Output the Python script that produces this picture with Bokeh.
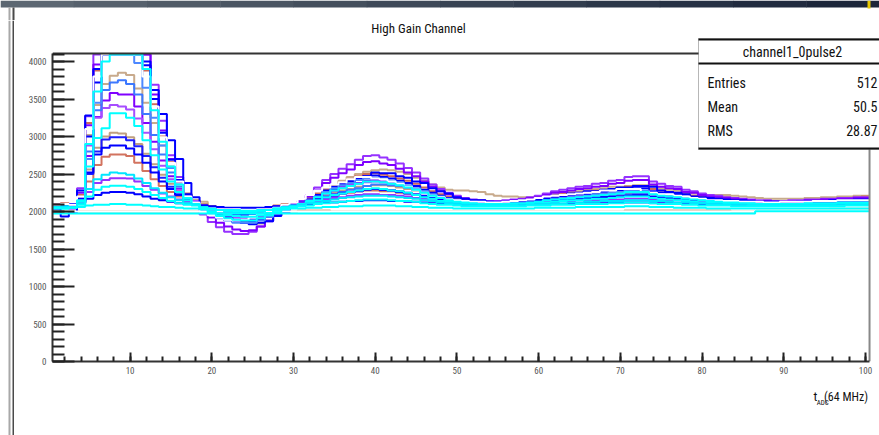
from bokeh.plotting import figure
from bokeh.models import Range1d, SingleIntervalTicker, Label, BoxAnnotation
from bokeh.layouts import row, column
from bokeh.embed import file_html
from bokeh.resources import INLINE

# ---------------- data (ADC counts per time bin, 100 bins) ----------------
bins = list(range(1, 101))

trace_01 = [2060, 2070, 2060, 2310, 3270, 4095, 4095, 4095, 4095, 4095,
            4095, 4095, 3690, 3210, 2750, 2460, 2200, 2130, 1960, 1860,
            1790, 1730, 1700, 1700, 1730, 1800, 1880, 1960, 2030, 2090,
            2140, 2220, 2320, 2420, 2500, 2570, 2630, 2690, 2740, 2750,
            2720, 2690, 2640, 2580, 2520, 2440, 2360, 2300, 2250, 2210,
            2180, 2160, 2150, 2140, 2140, 2150, 2160, 2170, 2190, 2210,
            2240, 2270, 2290, 2310, 2330, 2340, 2370, 2380, 2410, 2420,
            2460, 2470, 2470, 2400, 2370, 2340, 2330, 2290, 2270, 2240,
            2220, 2210, 2190, 2180, 2170, 2160, 2150, 2150, 2140, 2140,
            2150, 2150, 2160, 2160, 2170, 2170, 2180, 2180, 2190, 2190]
trace_02 = [2040, 2050, 2040, 2250, 3150, 3960, 4095, 4095, 4095, 4095,
            4095, 4095, 3560, 3080, 2700, 2400, 2220, 2110, 2010, 1920,
            1850, 1800, 1760, 1740, 1750, 1800, 1870, 1950, 2020, 2080,
            2130, 2200, 2290, 2380, 2450, 2510, 2560, 2620, 2660, 2670,
            2640, 2620, 2570, 2520, 2470, 2400, 2330, 2270, 2230, 2190,
            2170, 2150, 2140, 2130, 2130, 2140, 2150, 2160, 2180, 2190,
            2220, 2250, 2260, 2280, 2300, 2310, 2330, 2340, 2370, 2380,
            2410, 2420, 2420, 2360, 2330, 2310, 2300, 2260, 2250, 2220,
            2200, 2190, 2180, 2170, 2160, 2150, 2140, 2140, 2130, 2130,
            2140, 2140, 2150, 2150, 2160, 2160, 2170, 2170, 2180, 2180]
trace_03 = [2080, 2090, 2080, 2190, 3020, 3420, 3700, 3810, 3850, 3820,
            3640, 3450, 3180, 2880, 2600, 2390, 2230, 2150, 2130, 2070,
            1990, 1930, 1880, 1850, 1840, 1840, 1880, 1940, 2000, 2060,
            2110, 2150, 2210, 2280, 2350, 2410, 2460, 2500, 2530, 2550,
            2560, 2550, 2530, 2500, 2450, 2410, 2360, 2320, 2290, 2280,
            2280, 2270, 2260, 2230, 2210, 2200, 2200, 2190, 2190, 2200,
            2210, 2230, 2250, 2260, 2270, 2290, 2300, 2310, 2330, 2330,
            2340, 2350, 2350, 2340, 2310, 2290, 2280, 2260, 2240, 2230,
            2220, 2220, 2220, 2210, 2200, 2190, 2180, 2170, 2170, 2170,
            2170, 2170, 2180, 2180, 2190, 2190, 2200, 2200, 2210, 2210]
trace_04 = [2050, 2060, 2070, 2170, 3000, 3720, 4095, 4095, 4095, 4095,
            4095, 3950, 3500, 3050, 2690, 2420, 2230, 2120, 2030, 1970,
            1920, 1890, 1860, 1850, 1860, 1890, 1930, 1990, 2040, 2080,
            2110, 2160, 2220, 2280, 2330, 2370, 2410, 2440, 2470, 2480,
            2460, 2440, 2410, 2380, 2340, 2290, 2250, 2210, 2180, 2160,
            2140, 2130, 2120, 2110, 2110, 2120, 2130, 2130, 2140, 2160,
            2170, 2190, 2200, 2220, 2230, 2230, 2250, 2260, 2280, 2280,
            2310, 2310, 2310, 2270, 2250, 2230, 2230, 2200, 2190, 2170,
            2160, 2160, 2140, 2140, 2130, 2130, 2120, 2120, 2110, 2110,
            2120, 2120, 2130, 2130, 2130, 2130, 2140, 2140, 2140, 2150]
trace_05 = [2090, 2100, 2090, 2200, 3100, 3800, 4095, 4095, 4095, 4095,
            4095, 3800, 3400, 2990, 2650, 2400, 2200, 2120, 1990, 1950,
            1920, 1890, 1880, 1890, 1920, 1960, 2010, 2050, 2090, 2120,
            2170, 2220, 2280, 2320, 2360, 2390, 2430, 2460, 2460, 2440,
            2430, 2400, 2370, 2330, 2290, 2250, 2210, 2190, 2160, 2150,
            2140, 2130, 2130, 2120, 2120, 2130, 2140, 2150, 2160, 2180,
            2200, 2210, 2220, 2230, 2240, 2250, 2260, 2280, 2280, 2300,
            2300, 2300, 2260, 2250, 2230, 2230, 2210, 2200, 2180, 2170,
            2150, 2150, 2140, 2140, 2130, 2130, 2130, 2120, 2120, 2130,
            2130, 2130, 2130, 2140, 2140, 2140, 2150, 2150, 2150, 2150]
trace_06 = [2060, 2070, 2060, 2150, 2900, 3600, 4000, 4095, 4095, 4095,
            4095, 3900, 3350, 2930, 2600, 2360, 2180, 2100, 2030, 1980,
            1940, 1910, 1890, 1880, 1880, 1910, 1950, 1990, 2030, 2070,
            2100, 2140, 2190, 2240, 2280, 2310, 2340, 2370, 2400, 2400,
            2390, 2370, 2350, 2320, 2290, 2250, 2210, 2180, 2150, 2130,
            2120, 2110, 2100, 2100, 2100, 2100, 2110, 2110, 2120, 2130,
            2150, 2160, 2170, 2180, 2190, 2200, 2210, 2220, 2230, 2240,
            2260, 2260, 2260, 2230, 2210, 2200, 2190, 2170, 2160, 2150,
            2140, 2130, 2120, 2120, 2110, 2110, 2100, 2100, 2100, 2100,
            2100, 2100, 2110, 2110, 2110, 2110, 2120, 2120, 2120, 2120]
trace_07 = [2070, 2080, 2070, 2140, 2800, 3350, 3620, 3720, 3750, 3700,
            3560, 3300, 3020, 2760, 2520, 2330, 2180, 2110, 2060, 2050,
            2000, 1970, 1950, 1930, 1920, 1920, 1950, 1980, 2020, 2050,
            2080, 2110, 2140, 2180, 2220, 2260, 2290, 2310, 2340, 2360,
            2360, 2350, 2340, 2320, 2290, 2270, 2230, 2200, 2170, 2150,
            2140, 2130, 2120, 2110, 2110, 2110, 2110, 2120, 2120, 2130,
            2140, 2150, 2170, 2180, 2190, 2190, 2200, 2210, 2220, 2230,
            2230, 2240, 2240, 2240, 2210, 2200, 2190, 2180, 2170, 2150,
            2140, 2140, 2130, 2120, 2120, 2110, 2110, 2110, 2100, 2100,
            2110, 2110, 2110, 2110, 2120, 2120, 2120, 2130, 2130, 2130]
trace_08 = [2050, 2050, 2060, 2130, 2600, 2980, 3110, 3310, 3310, 3250,
            3140, 2950, 2750, 2560, 2400, 2260, 2150, 2090, 2040, 2000,
            1970, 1950, 1940, 1930, 1930, 1950, 1980, 2010, 2040, 2070,
            2090, 2120, 2150, 2190, 2220, 2240, 2260, 2280, 2300, 2310,
            2300, 2280, 2270, 2250, 2220, 2190, 2170, 2140, 2130, 2110,
            2100, 2090, 2090, 2090, 2090, 2090, 2090, 2100, 2100, 2110,
            2120, 2130, 2140, 2150, 2150, 2160, 2170, 2170, 2180, 2190,
            2200, 2200, 2200, 2180, 2170, 2160, 2150, 2140, 2130, 2120,
            2120, 2110, 2100, 2100, 2100, 2090, 2090, 2090, 2090, 2090,
            2090, 2090, 2090, 2090, 2100, 2100, 2100, 2100, 2100, 2100]
trace_09 = [2070, 2060, 2070, 2120, 2500, 2800, 2960, 2990, 2990, 2950,
            2870, 2740, 2590, 2450, 2330, 2230, 2150, 2110, 2080, 2050,
            2020, 2000, 1990, 1990, 1990, 2000, 2030, 2050, 2080, 2100,
            2120, 2140, 2170, 2200, 2230, 2250, 2260, 2280, 2300, 2300,
            2290, 2280, 2270, 2250, 2230, 2210, 2180, 2170, 2150, 2140,
            2130, 2120, 2120, 2120, 2120, 2120, 2120, 2130, 2130, 2140,
            2150, 2160, 2160, 2170, 2170, 2180, 2190, 2190, 2200, 2200,
            2210, 2220, 2220, 2200, 2190, 2180, 2170, 2160, 2160, 2150,
            2140, 2140, 2130, 2130, 2130, 2120, 2120, 2120, 2120, 2120,
            2120, 2120, 2120, 2120, 2130, 2130, 2130, 2130, 2130, 2130]
trace_10 = [2080, 2090, 2080, 2120, 2400, 2620, 2730, 2760, 2760, 2740,
            2650, 2540, 2430, 2340, 2260, 2200, 2150, 2130, 2090, 2070,
            2050, 2030, 2020, 2020, 2020, 2030, 2050, 2080, 2100, 2110,
            2130, 2150, 2170, 2200, 2220, 2240, 2250, 2270, 2280, 2280,
            2270, 2270, 2250, 2240, 2220, 2200, 2180, 2170, 2160, 2150,
            2140, 2130, 2130, 2130, 2130, 2130, 2130, 2140, 2140, 2150,
            2150, 2160, 2170, 2170, 2180, 2180, 2190, 2190, 2200, 2200,
            2210, 2210, 2210, 2190, 2190, 2180, 2180, 2170, 2200, 2200,
            2200, 2200, 2190, 2180, 2160, 2150, 2140, 2140, 2130, 2130,
            2130, 2130, 2140, 2140, 2150, 2160, 2170, 2180, 2190, 2200]
trace_11 = [2060, 2060, 2070, 2120, 2260, 2380, 2420, 2445, 2445, 2440,
            2400, 2340, 2290, 2240, 2200, 2160, 2130, 2110, 2080, 2060,
            2040, 2030, 2020, 2020, 2020, 2030, 2050, 2070, 2080, 2100,
            2110, 2120, 2140, 2160, 2180, 2190, 2210, 2220, 2230, 2230,
            2220, 2220, 2210, 2200, 2180, 2170, 2150, 2140, 2130, 2120,
            2120, 2110, 2110, 2110, 2110, 2110, 2110, 2110, 2120, 2120,
            2130, 2130, 2140, 2140, 2150, 2150, 2150, 2160, 2160, 2160,
            2170, 2170, 2170, 2160, 2150, 2150, 2150, 2140, 2130, 2130,
            2120, 2120, 2120, 2120, 2110, 2110, 2110, 2110, 2110, 2110,
            2110, 2110, 2110, 2110, 2110, 2110, 2120, 2120, 2120, 2120]
trace_12 = [2050, 2040, 2050, 2090, 2200, 2290, 2330, 2345, 2345, 2330,
            2300, 2260, 2220, 2180, 2140, 2110, 2090, 2080, 2050, 2030,
            2020, 2010, 2010, 2000, 2000, 2010, 2020, 2040, 2050, 2060,
            2070, 2080, 2100, 2110, 2120, 2130, 2140, 2150, 2160, 2160,
            2160, 2150, 2140, 2140, 2130, 2110, 2100, 2090, 2090, 2080,
            2070, 2070, 2070, 2070, 2070, 2070, 2070, 2070, 2080, 2080,
            2080, 2090, 2090, 2090, 2100, 2100, 2100, 2100, 2110, 2110,
            2120, 2120, 2120, 2110, 2100, 2100, 2100, 2090, 2090, 2080,
            2080, 2080, 2080, 2070, 2070, 2070, 2070, 2070, 2070, 2070,
            2070, 2070, 2070, 2070, 2070, 2070, 2070, 2080, 2080, 2080]
trace_13 = [2040, 1935, 1990, 2100, 2170, 2220, 2250, 2260, 2260, 2250,
            2230, 2200, 2170, 2150, 2130, 2110, 2100, 2100, 2080, 2070,
            2060, 2050, 2050, 2050, 2050, 2050, 2060, 2070, 2080, 2080,
            2090, 2100, 2110, 2120, 2120, 2130, 2140, 2140, 2150, 2150,
            2150, 2140, 2140, 2130, 2130, 2120, 2110, 2100, 2100, 2100,
            2090, 2090, 2090, 2090, 2090, 2090, 2090, 2090, 2090, 2100,
            2100, 2100, 2100, 2110, 2110, 2110, 2110, 2110, 2120, 2120,
            2120, 2120, 2120, 2110, 2110, 2110, 2110, 2100, 2100, 2100,
            2100, 2100, 2090, 2090, 2090, 2090, 2090, 2090, 2090, 2090,
            2090, 2090, 2090, 2090, 2090, 2090, 2090, 2090, 2100, 2100]
trace_14 = [2060, 2060, 2060, 2070, 2100, 2120, 2120, 2130, 2130, 2120,
            2120, 2110, 2100, 2090, 2080, 2070, 2060, 2060, 2050, 2040,
            2030, 2030, 2030, 2020, 2020, 2030, 2030, 2040, 2050, 2050,
            2060, 2070, 2070, 2080, 2090, 2090, 2100, 2100, 2110, 2110,
            2110, 2100, 2100, 2090, 2090, 2080, 2080, 2070, 2070, 2060,
            2060, 2060, 2060, 2060, 2060, 2060, 2060, 2060, 2070, 2070,
            2070, 2070, 2070, 2080, 2080, 2080, 2080, 2080, 2080, 2080,
            2090, 2090, 2090, 2080, 2080, 2080, 2070, 2070, 2070, 2070,
            2060, 2060, 2060, 2060, 2060, 2060, 2060, 2060, 2060, 2060,
            2060, 2060, 2060, 2060, 2060, 2070, 2070, 2070, 2070, 2070]
trace_15 = [2040, 2040, 2050, 2060, 2080, 2090, 2090, 2100, 2100, 2090,
            2090, 2080, 2070, 2060, 2060, 2050, 2040, 2040, 2030, 2030,
            2020, 2020, 2020, 2010, 2010, 2020, 2020, 2030, 2030, 2040,
            2040, 2050, 2050, 2060, 2060, 2070, 2070, 2070, 2080, 2080,
            2080, 2080, 2070, 2070, 2060, 2060, 2050, 2050, 2050, 2040,
            2040, 2040, 2040, 2040, 2040, 2040, 2040, 2040, 2040, 2050,
            2050, 2050, 2050, 2050, 2060, 2060, 2060, 2060, 2060, 2060,
            2070, 2070, 2070, 2060, 2060, 2060, 2050, 2050, 2050, 2050,
            2040, 2040, 2040, 2040, 2040, 2040, 2040, 2040, 2040, 2040,
            2040, 2040, 2040, 2040, 2040, 2040, 2040, 2040, 2040, 2040]
trace_16 = [1975, 1975, 1975, 1975, 1975, 1975, 1975, 1975, 1975, 1975,
            1975, 1975, 1975, 1975, 1975, 1975, 1975, 1975, 1975, 1975,
            1975, 1975, 1975, 1975, 1975, 1975, 1975, 1975, 1975, 1975,
            1975, 1975, 1975, 1975, 1975, 1975, 1975, 1975, 1975, 1975,
            1975, 1975, 1975, 1975, 1975, 1975, 1975, 1975, 1975, 1975,
            1975, 1975, 1975, 1975, 1975, 1975, 1975, 1975, 1975, 1975,
            1975, 1975, 1975, 1975, 1975, 1975, 1975, 1975, 1975, 1975,
            1975, 1975, 1975, 1975, 1975, 1975, 1975, 1975, 1975, 1975,
            1975, 1975, 1975, 1975, 1975, 1975, 2005, 2005, 2005, 2005,
            2005, 2005, 2005, 2005, 2005, 2005, 2005, 2005, 2005, 2005]
trace_17 = [2000, 2000, 2000, 2000, 2000, 2000, 2000, 2000, 2000, 2000,
            2000, 2000, 2000, 2000, 2000, 2000, 2000, 2000, 2000, 2000,
            2000, 2000, 2000, 2000, 2000, 2000, 2000, 2000, 2000, 2000,
            2000, 2000, 2000, 2000, 2000, 2000, 2000, 2000, 2000, 2000,
            2000, 2000, 2000, 2000, 2000, 2000, 2000, 2000, 2000, 2000,
            2000, 2000, 2000, 2000, 2000, 2000, 2000, 2000, 2000, 2000,
            2000, 2000, 2000, 2000, 2000, 2000, 2000, 2000, 2000, 2000,
            2000, 2000, 2000, 2000, 2000, 2000, 2000, 2000, 2000, 2000,
            2000, 2000, 2000, 2000, 2000, 2000, 2040, 2040, 2040, 2040,
            2040, 2040, 2040, 2040, 2040, 2040, 2040, 2040, 2040, 2040]
trace_18 = [2000, 2000, 2000, 2000, 2000, 2000, 2000, 2000, 2000, 2000,
            2000, 2000, 2000, 2000, 2000, 2000, 2000, 2000, 2000, 2000,
            2000, 2000, 2000, 2000, 2000, 2000, 2000, 2000, 2000, 2000,
            2015, 2015, 2015, 2015, 2000, 2000, 2000, 2000, 2000, 2000,
            2000, 2000, 2000, 2000, 2000, 2000, 2000, 2000, 2000, 2000,
            2000, 2000, 2000, 2000, 2000, 2000, 2000, 2000, 2000, 2000,
            2000, 2000, 2000, 2000, 2000, 2000, 2000, 2000, 2000, 2000,
            2015, 2015, 2015, 2015, 2015, 2015, 2015, 2015, 2015, 2015,
            2015, 2015, 2015, 2000, 2000, 2000, 2040, 2040, 2040, 2040,
            2040, 2040, 2040, 2040, 2040, 2040, 2040, 2040, 2040, 2040]
trace_19 = [2090, 2080, 2100, 2280, 3280, 3900, 4095, 4095, 4095, 4095,
            4095, 4000, 3620, 3300, 2950, 2700, 2380, 2190, 2080, 2010,
            1960, 1920, 1870, 1850, 1830, 1850, 1870, 1940, 1980, 2050,
            2090, 2120, 2170, 2250, 2300, 2370, 2400, 2450, 2470, 2520,
            2510, 2510, 2470, 2450, 2400, 2380, 2310, 2270, 2240, 2190,
            2170, 2150, 2150, 2130, 2120, 2130, 2130, 2150, 2150, 2170,
            2180, 2210, 2220, 2240, 2250, 2270, 2270, 2290, 2300, 2320,
            2320, 2340, 2340, 2330, 2280, 2260, 2250, 2230, 2200, 2190,
            2180, 2170, 2160, 2150, 2150, 2140, 2130, 2130, 2130, 2120,
            2120, 2130, 2130, 2140, 2140, 2150, 2150, 2150, 2160, 2160]
trace_20 = [2070, 2060, 2070, 2160, 2740, 3260, 3480, 3580, 3560, 3560,
            3400, 3180, 2930, 2680, 2470, 2300, 2190, 2130, 2050, 1990,
            1950, 1920, 1890, 1880, 1890, 1920, 1960, 2000, 2050, 2080,
            2120, 2150, 2200, 2250, 2280, 2330, 2350, 2380, 2410, 2420,
            2400, 2390, 2360, 2330, 2300, 2260, 2220, 2190, 2160, 2140,
            2130, 2120, 2110, 2110, 2100, 2110, 2120, 2120, 2130, 2140,
            2160, 2170, 2180, 2190, 2200, 2210, 2220, 2230, 2240, 2250,
            2270, 2270, 2260, 2240, 2220, 2210, 2200, 2180, 2170, 2160,
            2150, 2140, 2130, 2130, 2120, 2120, 2110, 2110, 2110, 2110,
            2110, 2110, 2120, 2120, 2120, 2120, 2130, 2130, 2130, 2140]
trace_21 = [2060, 2070, 2060, 2130, 2700, 3450, 4095, 4095, 4095, 4095,
            3980, 3650, 3250, 2880, 2580, 2360, 2200, 2110, 2020, 1960,
            1910, 1880, 1850, 1850, 1850, 1880, 1930, 1980, 2030, 2070,
            2100, 2150, 2200, 2260, 2310, 2350, 2380, 2420, 2440, 2450,
            2440, 2410, 2390, 2350, 2310, 2270, 2220, 2190, 2160, 2140,
            2120, 2110, 2100, 2100, 2090, 2100, 2110, 2110, 2120, 2130,
            2150, 2170, 2180, 2190, 2200, 2210, 2230, 2240, 2250, 2260,
            2280, 2280, 2280, 2250, 2230, 2210, 2200, 2180, 2170, 2150,
            2140, 2130, 2120, 2120, 2110, 2110, 2100, 2100, 2100, 2100,
            2100, 2100, 2110, 2110, 2110, 2110, 2120, 2120, 2120, 2120]
trace_22 = [2100, 2090, 2100, 2150, 2560, 2850, 3000, 3050, 3040, 2990,
            2900, 2770, 2630, 2490, 2370, 2270, 2190, 2150, 2100, 2070,
            2040, 2020, 2000, 1990, 1990, 2010, 2030, 2060, 2090, 2110,
            2130, 2160, 2190, 2230, 2260, 2280, 2300, 2330, 2340, 2350,
            2350, 2340, 2320, 2300, 2280, 2250, 2230, 2200, 2180, 2170,
            2160, 2150, 2150, 2140, 2140, 2140, 2150, 2150, 2160, 2160,
            2170, 2180, 2190, 2200, 2200, 2210, 2220, 2220, 2230, 2230,
            2240, 2250, 2250, 2230, 2220, 2210, 2200, 2190, 2180, 2170,
            2170, 2160, 2160, 2150, 2150, 2150, 2140, 2140, 2140, 2140,
            2140, 2140, 2150, 2150, 2150, 2160, 2160, 2170, 2170, 2180]
trace_23 = [2060, 2060, 2060, 2100, 2300, 2430, 2490, 2520, 2510, 2490,
            2440, 2380, 2310, 2250, 2190, 2150, 2110, 2090, 2060, 2040,
            2020, 2000, 1990, 1990, 1990, 2000, 2020, 2040, 2060, 2080,
            2090, 2110, 2120, 2140, 2160, 2180, 2190, 2200, 2210, 2210,
            2210, 2200, 2190, 2180, 2170, 2150, 2140, 2120, 2110, 2100,
            2090, 2090, 2080, 2080, 2080, 2080, 2080, 2090, 2090, 2100,
            2100, 2110, 2110, 2120, 2120, 2130, 2130, 2140, 2140, 2140,
            2150, 2150, 2150, 2140, 2140, 2130, 2120, 2120, 2110, 2110,
            2100, 2100, 2090, 2090, 2090, 2080, 2080, 2080, 2080, 2080,
            2080, 2080, 2080, 2080, 2080, 2080, 2090, 2090, 2090, 2090]
trace_24 = [2080, 2090, 2080, 2180, 2880, 3250, 3380, 3420, 3400, 3360,
            3240, 3050, 2830, 2610, 2430, 2290, 2190, 2140, 2070, 2020,
            1980, 1940, 1920, 1910, 1910, 1930, 1970, 2010, 2060, 2090,
            2120, 2160, 2200, 2240, 2280, 2320, 2340, 2370, 2390, 2400,
            2390, 2380, 2350, 2320, 2290, 2260, 2220, 2190, 2170, 2150,
            2140, 2130, 2120, 2120, 2110, 2120, 2120, 2130, 2140, 2150,
            2160, 2170, 2180, 2190, 2200, 2210, 2220, 2230, 2240, 2240,
            2260, 2260, 2260, 2230, 2220, 2210, 2200, 2180, 2170, 2160,
            2150, 2140, 2140, 2130, 2130, 2120, 2120, 2120, 2110, 2120,
            2120, 2120, 2120, 2130, 2130, 2130, 2130, 2140, 2140, 2140]
trace_25 = [2070, 2080, 2070, 2140, 2520, 2760, 2850, 2880, 2880, 2840,
            2760, 2650, 2520, 2400, 2300, 2220, 2150, 2110, 2060, 2030,
            2000, 1980, 1970, 1960, 1970, 1980, 2010, 2040, 2070, 2090,
            2100, 2130, 2160, 2190, 2210, 2240, 2260, 2270, 2290, 2300,
            2290, 2280, 2260, 2240, 2220, 2200, 2180, 2160, 2140, 2130,
            2120, 2110, 2110, 2100, 2100, 2100, 2110, 2120, 2120, 2130,
            2140, 2150, 2150, 2160, 2170, 2170, 2180, 2190, 2190, 2200,
            2210, 2210, 2210, 2190, 2180, 2170, 2170, 2160, 2150, 2140,
            2130, 2130, 2120, 2120, 2120, 2110, 2110, 2110, 2110, 2110,
            2110, 2110, 2110, 2120, 2120, 2120, 2120, 2120, 2130, 2130]
trace_26 = [2100, 2110, 2100, 2220, 3180, 3880, 4095, 4095, 4095, 4095,
            4095, 3880, 3430, 3000, 2660, 2420, 2240, 2140, 2040, 1980,
            1930, 1890, 1870, 1860, 1870, 1900, 1950, 2000, 2050, 2090,
            2130, 2180, 2240, 2300, 2350, 2390, 2430, 2470, 2500, 2510,
            2490, 2470, 2440, 2410, 2370, 2320, 2270, 2230, 2200, 2180,
            2160, 2150, 2140, 2130, 2130, 2140, 2150, 2150, 2160, 2180,
            2190, 2210, 2230, 2240, 2250, 2260, 2280, 2280, 2300, 2310,
            2330, 2340, 2340, 2300, 2280, 2260, 2250, 2230, 2210, 2200,
            2190, 2180, 2170, 2160, 2160, 2150, 2140, 2140, 2140, 2140,
            2140, 2140, 2150, 2150, 2150, 2160, 2160, 2170, 2170, 2170]

# drawing order (first drawn = bottom) and colours
series = [
    (trace_18, "#c8aa8c"), (trace_03, "#c8aa8c"), (trace_22, "#c0a080"),
    (trace_10, "#d2735f"), (trace_26, "#cd6a5a"),
    (trace_01, "#9632ff"), (trace_02, "#7f00ff"), (trace_20, "#8000ff"),
    (trace_24, "#a64dff"), (trace_04, "#0000ff"), (trace_19, "#0000ff"),
    (trace_07, "#3c78ff"), (trace_21, "#4d88ff"), (trace_09, "#1e1eff"),
    (trace_25, "#0000ff"), (trace_11, "#9632ff"), (trace_13, "#0000ff"),
    (trace_05, "#ffffff"), (trace_14, "#ffffff"), (trace_17, "#ffffff"),
    (trace_06, "#00ffff"), (trace_08, "#00ffff"), (trace_23, "#00e5ff"),
    (trace_12, "#00ffff"), (trace_15, "#00ffff"), (trace_16, "#00ffff"),
]

title_text = "High Gain Channel"
stats_name = "channel1_0pulse2"
stats_rows = [("Entries", "512"), ("Mean", "50.5"), ("RMS", "28.87")]
x_lo, x_hi = 0.5, 100.5
y_lo, y_hi = 0, 4107

FONT = "Roboto Condensed"
W, H = 879, 435
OX = 14   # page x of the main figure's left edge
OY = 20   # page y of the main figure's top edge (below the header strip)
BAR = 7   # height of the dark window bar

# ---------------- window title bar strip ----------------
hb = figure(width=W, height=OY, output_backend="svg", toolbar_location=None,
            x_range=Range1d(0, W), y_range=Range1d(OY, 0),
            x_axis_type=None, y_axis_type=None, min_border=0,
            outline_line_color=None, background_fill_color="white",
            border_fill_color="white")
hb.grid.visible = False
bar_cols = ["#5c6772", "#56616d", "#505b67", "#4a5562", "#444f5d", "#3e4958",
            "#384353", "#323d4e", "#2c3749", "#263144", "#212b3f", "#1c263a"]
seg = W / len(bar_cols)
hb.quad(left=[i * seg for i in range(len(bar_cols))],
        right=[(i + 1) * seg + 0.5 for i in range(len(bar_cols))],
        top=[0] * len(bar_cols), bottom=[BAR] * len(bar_cols),
        fill_color=bar_cols, line_alpha=0)
hb.quad(left=[867], right=[870], top=[0], bottom=[BAR + 1], fill_color="#e8c800", line_alpha=0)
hb.quad(left=[8], right=[10], top=[BAR], bottom=[OY], fill_color="#a8a8a8", line_alpha=0)
hb.quad(left=[12], right=[14], top=[BAR], bottom=[OY], fill_color="#4a4a4a", line_alpha=0)

# ---------------- main figure ----------------
p = figure(width=W - OX, height=385 - OY, output_backend="svg", toolbar_location=None,
           x_range=Range1d(0.5, 101.72), y_range=Range1d(0, (361 - OY) / 0.075),
           min_border_left=52 - OX, min_border_right=0, min_border_top=0,
           min_border_bottom=24, background_fill_color="white",
           border_fill_color="white", outline_line_color=None)
p.grid.visible = False

edges = [b - 0.5 for b in bins] + [bins[-1] + 0.5]
for vals, col in series:
    p.step(x=edges, y=list(vals) + [vals[-1]], mode="after",
           line_color=col, line_width=2)

# frame top and right lines
p.segment(x0=[x_lo], y0=[y_hi], x1=[x_hi], y1=[y_hi], line_color="#333333", line_width=2)
p.segment(x0=[x_hi], y0=[y_lo], x1=[x_hi], y1=[y_hi], line_color="#888888", line_width=2)

# axes
p.xaxis.ticker = SingleIntervalTicker(interval=10, num_minor_ticks=5)
p.yaxis.ticker = SingleIntervalTicker(interval=500, num_minor_ticks=5)
p.xaxis.bounds = (x_lo, x_hi)
p.yaxis.bounds = (y_lo, y_hi)
for ax in (p.xaxis, p.yaxis):
    ax.axis_line_color = "#333333"
    ax.axis_line_width = 2
    ax.major_tick_line_color = "#222222"
    ax.minor_tick_line_color = "#222222"
    ax.major_tick_line_width = 2
    ax.minor_tick_line_width = 2
    ax.major_tick_out = 0
    ax.minor_tick_out = 0
    ax.major_label_text_font = FONT
    ax.major_label_text_font_size = "9px"
    ax.major_label_text_color = "#555555"
p.yaxis.major_tick_in = 22
p.yaxis.minor_tick_in = 12
p.yaxis.major_label_standoff = 6
p.xaxis.major_tick_in = 9
p.xaxis.minor_tick_in = 5
p.xaxis.major_label_standoff = 5


def cbox(left, right, top, bottom, **kw):
    return BoxAnnotation(left=left - OX, right=right - OX, top=top - OY, bottom=bottom - OY,
                         left_units="canvas", right_units="canvas",
                         top_units="canvas", bottom_units="canvas", **kw)


def clabel(x, y, text, align, size):
    return Label(x=x - OX, y=y - OY, x_units="canvas", y_units="canvas", text=text,
                 text_align=align, text_baseline="middle", text_font=FONT,
                 text_font_size=size, text_color="#111111")


# title
p.add_layout(clabel(418, 28, title_text, "center", "13px"))

# stats box
p.add_layout(cbox(698, 900, 38, 149, fill_color="white", fill_alpha=1,
                  line_color="#111111", line_width=1))
for yt, yb in ((38, 40), (62, 64), (147, 149)):
    p.add_layout(cbox(698, 900, yt, yb, fill_color="#111111", fill_alpha=1, line_alpha=0))
p.add_layout(clabel(792, 51, stats_name, "center", "14px"))
for i, (k, v) in enumerate(stats_rows):
    yy = 82 + 24 * i
    p.add_layout(clabel(707, yy, k, "left", "14px"))
    p.add_layout(clabel(877, yy, v, "right", "14px"))

# ---------------- footer (x-axis title) ----------------
f = figure(width=W - OX, height=H - 385, output_backend="svg", toolbar_location=None,
           x_range=Range1d(OX, W), y_range=Range1d(H, 385),
           x_axis_type=None, y_axis_type=None, min_border=0,
           outline_line_color=None, background_fill_color="white",
           border_fill_color="white")
f.grid.visible = False
f.add_layout(Label(x=867, y=396, text="(64 MHz)", text_align="right",
                   text_baseline="middle", text_font=FONT, text_font_size="12px",
                   text_color="#111111"))
f.add_layout(Label(x=826, y=402, text="ADC", text_align="right",
                   text_baseline="middle", text_font=FONT, text_font_size="7px",
                   text_color="#111111"))
f.add_layout(Label(x=814, y=396, text="t", text_align="right",
                   text_baseline="middle", text_font=FONT, text_font_size="13px",
                   text_color="#111111"))

# ---------------- left window border ----------------
s = figure(width=OX, height=H - OY, output_backend="svg", toolbar_location=None,
           x_range=Range1d(0, OX), y_range=Range1d(H, OY),
           x_axis_type=None, y_axis_type=None, min_border=0,
           outline_line_color=None, background_fill_color="white",
           border_fill_color="white")
s.grid.visible = False
s.quad(left=[8], right=[10], top=[OY], bottom=[H], fill_color="#a8a8a8", line_alpha=0)
s.quad(left=[12], right=[14], top=[OY], bottom=[H], fill_color="#4a4a4a", line_alpha=0)

layout = column(hb, row(s, column(p, f)))
open("out.html", "w").write(file_html(layout, INLINE))
